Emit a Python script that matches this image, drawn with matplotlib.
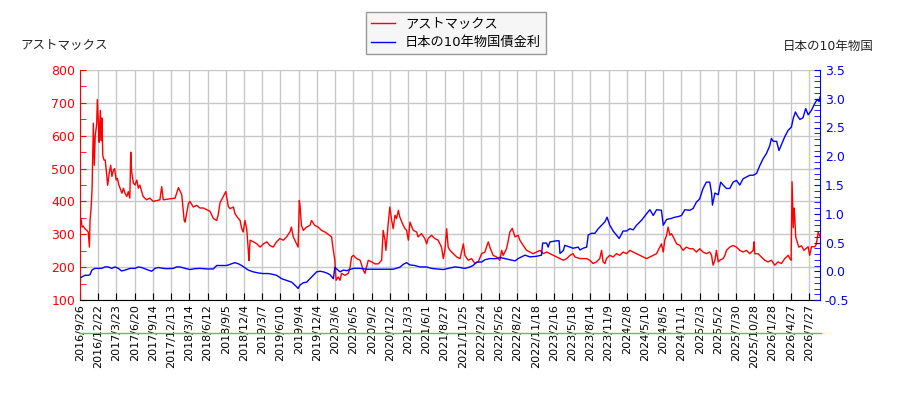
import numpy as np
import matplotlib
matplotlib.use('Agg')
import matplotlib.pyplot as plt
from matplotlib.lines import Line2D
from matplotlib.ticker import MultipleLocator, FixedLocator

plt.rcParams['font.family'] = ['DejaVu Sans', 'Noto Sans CJK JP']

# x axis = trading-day index, one tick every 60 trading days
tick_labels = ['2016/9/26', '2016/12/22', '2017/3/23', '2017/6/20', '2017/9/14', '2017/12/13',
               '2018/3/14', '2018/6/12', '2018/9/5', '2018/12/4', '2019/3/7', '2019/6/10',
               '2019/9/4', '2019/12/4', '2020/3/6', '2020/6/5', '2020/9/2', '2020/12/2',
               '2021/3/3', '2021/6/1', '2021/8/27', '2021/11/25', '2022/2/24', '2022/5/26',
               '2022/8/22', '2022/11/18', '2023/2/16', '2023/5/18', '2023/8/14', '2023/11/9',
               '2024/2/8', '2024/5/10', '2024/8/5', '2024/11/1', '2025/2/3', '2025/5/2',
               '2025/7/30', '2025/10/28', '2026/1/28', '2026/4/27', '2026/7/27']
tick_days = [i * 60 for i in range(len(tick_labels))]

# アストマックス stock price
astmax_day = [0, 3, 7, 11, 16, 22, 27, 31, 33, 36, 38, 40, 41, 44, 47, 50, 55, 57, 61, 63,
              67, 70, 72, 75, 79, 83, 88, 91, 96, 101, 105, 110, 114, 119, 123, 128, 132, 138,
              143, 148, 154, 159, 164, 167, 170, 176, 181, 187, 192, 197, 203, 208, 219, 230,
              241, 263, 269, 274, 296, 313, 324, 335, 340, 343, 346, 351, 357, 362, 373, 384,
              395, 406, 417, 428, 439, 450, 455, 461, 466, 480, 488, 494, 505, 510, 518, 527,
              532, 537, 543, 549, 554, 556, 560, 571, 582, 593, 604, 615, 625, 636, 647, 658,
              669, 680, 691, 696, 702, 713, 718, 722, 724, 729, 735, 746, 757, 762, 773, 784,
              795, 806, 817, 828, 834, 839, 843, 850, 856, 861, 872, 883, 889, 894, 900, 905,
              911, 922, 933, 938, 949, 960, 971, 982, 993, 998, 1004, 1007, 1015, 1020, 1026,
              1031, 1037, 1042, 1048, 1053, 1064, 1070, 1075, 1081, 1086, 1097, 1108, 1113,
              1124, 1135, 1141, 1146, 1157, 1168, 1179, 1190, 1196, 1201, 1207, 1212, 1218,
              1229, 1240, 1251, 1262, 1267, 1278, 1289, 1300, 1311, 1322, 1333, 1338, 1344,
              1349, 1360, 1371, 1382, 1388, 1393, 1404, 1410, 1415, 1423, 1432, 1442, 1448,
              1459, 1470, 1481, 1492, 1503, 1514, 1525, 1536, 1547, 1558, 1569, 1580, 1591,
              1602, 1613, 1623, 1629, 1646, 1668, 1678, 1689, 1700, 1711, 1717, 1722, 1728,
              1733, 1744, 1755, 1766, 1777, 1788, 1799, 1810, 1821, 1832, 1843, 1854, 1865,
              1876, 1887, 1898, 1903, 1909, 1914, 1920, 1925, 1931, 1936, 1942, 1947, 1953,
              1958, 1964, 1975, 1985, 1996, 2007, 2018, 2029, 2040, 2051, 2062, 2073, 2079,
              2084, 2090, 2095, 2101, 2106, 2117, 2123, 2128, 2139, 2150, 2161, 2172, 2183,
              2194, 2205, 2216, 2219, 2221, 2232, 2243, 2254, 2265, 2276, 2287, 2298, 2309,
              2320, 2331, 2337, 2341, 2344, 2348, 2351, 2353, 2356, 2361, 2366, 2375, 2383,
              2392, 2397, 2402, 2408, 2419, 2424, 2430, 2435]
astmax_price = [330, 349, 322, 325, 317, 312, 307, 261, 342, 373, 403, 445, 500, 638, 510, 597,
                637, 710, 630, 580, 677, 585, 654, 540, 526, 526, 480, 449, 485, 510, 476, 495,
                500, 465, 470, 450, 440, 425, 440, 425, 415, 430, 410, 550, 490, 455, 450, 465,
                440, 450, 430, 415, 405, 410, 400, 405, 445, 405, 408, 410, 442, 420, 373, 342,
                337, 364, 394, 400, 383, 388, 380, 380, 375, 370, 348, 342, 360, 396, 405, 430,
                385, 378, 383, 363, 352, 342, 318, 307, 342, 315, 251, 220, 282, 277, 271, 261,
                271, 277, 266, 261, 277, 287, 282, 292, 307, 322, 292, 271, 261, 403, 390, 327,
                312, 322, 327, 342, 327, 322, 312, 307, 300, 292, 251, 221, 160, 170, 160, 181,
                175, 181, 200, 231, 236, 231, 226, 221, 190, 181, 221, 216, 210, 210, 221, 312,
                282, 251, 337, 383, 342, 317, 358, 348, 373, 352, 327, 317, 312, 282, 337, 312,
                307, 292, 302, 287, 271, 287, 297, 287, 282, 261, 226, 251, 317, 261, 251, 241,
                231, 226, 271, 236, 221, 226, 211, 216, 241, 246, 261, 277, 261, 236, 231, 221,
                251, 236, 256, 282, 307, 318, 292, 297, 282, 266, 251, 246, 241, 246, 251, 241,
                246, 241, 236, 231, 226, 221, 226, 236, 241, 231, 226, 226, 221, 211, 216, 226,
                251, 216, 211, 226, 236, 231, 241, 236, 246, 241, 251, 246, 241, 236, 231, 226,
                231, 236, 241, 251, 261, 271, 246, 282, 297, 322, 297, 302, 292, 282, 271, 266,
                251, 261, 256, 256, 246, 256, 246, 241, 246, 236, 206, 221, 251, 216, 221, 226,
                236, 251, 261, 266, 261, 251, 246, 251, 241, 251, 277, 241, 241, 231, 221, 216,
                221, 206, 216, 211, 226, 236, 226, 221, 460, 320, 380, 353, 292, 277, 261, 265,
                251, 258, 262, 236, 262, 262, 270, 307, 295]

# 日本の10年物国債金利 (%)
jgb_day = [0, 3, 16, 27, 33, 39, 49, 60, 71, 82, 93, 104, 115, 126, 137, 148, 165, 181, 192,
           203, 220, 236, 247, 258, 274, 285, 307, 318, 329, 346, 362, 378, 395, 417, 439, 450,
           466, 483, 499, 510, 521, 532, 543, 554, 570, 587, 603, 620, 631, 647, 664, 680, 697,
           713, 718, 724, 735, 746, 757, 768, 779, 790, 801, 812, 823, 834, 839, 845, 856, 867,
           878, 889, 900, 921, 944, 965, 987, 1009, 1031, 1053, 1064, 1075, 1086, 1102, 1119,
           1141, 1157, 1174, 1196, 1212, 1234, 1251, 1267, 1284, 1294, 1306, 1322, 1333, 1349,
           1371, 1382, 1415, 1432, 1442, 1465, 1481, 1503, 1519, 1523, 1536, 1541, 1547, 1569,
           1577, 1580, 1591, 1596, 1613, 1623, 1640, 1646, 1656, 1668, 1673, 1684, 1695, 1706,
           1717, 1728, 1735, 1744, 1755, 1766, 1775, 1788, 1799, 1810, 1821, 1832, 1849, 1865,
           1876, 1887, 1898, 1914, 1920, 1931, 1947, 1958, 1969, 1980, 1991, 2007, 2018, 2029,
           2040, 2051, 2062, 2073, 2079, 2082, 2090, 2101, 2109, 2117, 2128, 2139, 2150, 2161,
           2172, 2183, 2194, 2205, 2216, 2227, 2238, 2249, 2260, 2271, 2276, 2282, 2293, 2301,
           2309, 2320, 2331, 2342, 2348, 2355, 2362, 2370, 2380, 2389, 2397, 2408, 2419, 2427,
           2433, 2436]
jgb_yield = [-0.11, -0.11, -0.07, -0.07, -0.06, 0.02, 0.05, 0.05, 0.05, 0.075, 0.075, 0.05,
             0.075, 0.05, 0.005, 0.02, 0.05, 0.05, 0.075, 0.065, 0.03, 0.0, 0.05, 0.065, 0.05,
             0.045, 0.05, 0.075, 0.075, 0.05, 0.03, 0.045, 0.05, 0.04, 0.04, 0.1, 0.1, 0.1,
             0.13, 0.15, 0.13, 0.1, 0.06, 0.02, -0.01, -0.03, -0.04, -0.04, -0.05, -0.07,
             -0.13, -0.16, -0.19, -0.27, -0.3, -0.24, -0.2, -0.19, -0.13, -0.07, -0.01, 0.0,
             -0.01, -0.03, -0.06, -0.13, 0.07, 0.04, -0.01, 0.02, 0.01, 0.03, 0.05, 0.05,
             0.035, 0.035, 0.035, 0.035, 0.035, 0.07, 0.12, 0.15, 0.11, 0.1, 0.075, 0.075,
             0.05, 0.04, 0.03, 0.05, 0.075, 0.065, 0.05, 0.075, 0.1, 0.16, 0.16, 0.2, 0.22,
             0.22, 0.24, 0.2, 0.18, 0.22, 0.28, 0.25, 0.26, 0.28, 0.49, 0.49, 0.42, 0.51, 0.53,
             0.53, 0.31, 0.36, 0.45, 0.42, 0.4, 0.42, 0.37, 0.4, 0.42, 0.63, 0.66, 0.66, 0.74,
             0.8, 0.86, 0.94, 0.8, 0.7, 0.63, 0.57, 0.7, 0.7, 0.74, 0.72, 0.8, 0.89, 1.0, 1.07,
             0.97, 1.07, 1.06, 0.8, 0.9, 0.92, 0.94, 0.95, 0.97, 1.07, 1.06, 1.09, 1.2, 1.26,
             1.44, 1.55, 1.55, 1.36, 1.15, 1.36, 1.33, 1.55, 1.5, 1.44, 1.44, 1.55, 1.58, 1.5,
             1.61, 1.64, 1.67, 1.67, 1.7, 1.84, 1.96, 2.05, 2.19, 2.31, 2.26, 2.26, 2.1, 2.2,
             2.34, 2.45, 2.51, 2.66, 2.77, 2.7, 2.64, 2.67, 2.83, 2.72, 2.8, 2.92, 2.99, 2.95,
             3.03]

fig = plt.figure(figsize=(9, 4), dpi=100)
ax = fig.add_axes([80 / 900, 0.25, 740 / 900, 0.575])
ax2 = ax.twinx()

l1, = ax.plot(astmax_day, astmax_price, color='red', linewidth=1, label='アストマックス')
l2, = ax2.plot(jgb_day, jgb_yield, color='blue', linewidth=1, label='日本の10年物国債金利')

ax.set_xlim(0, 2436)
ax.set_ylim(100, 800)
ax2.set_ylim(-0.5, 3.5)

ax.xaxis.set_major_locator(FixedLocator(tick_days))
ax.set_xticks(tick_days)
ax.set_xticklabels(tick_labels, rotation=90, fontsize=8)
ax.yaxis.set_major_locator(MultipleLocator(100))
ax.yaxis.set_minor_locator(MultipleLocator(50))
ax2.yaxis.set_major_locator(MultipleLocator(0.5))
ax2.yaxis.set_minor_locator(MultipleLocator(0.1))

ax.grid(True, color='#c8c8c8', linewidth=1)
ax.set_axisbelow(True)

ax.tick_params(axis='x', direction='in', length=5, color='black', labelsize=8, pad=3)
ax.tick_params(axis='y', which='both', direction='in', length=4, colors='red', labelsize=9)
ax2.tick_params(axis='y', which='both', direction='in', length=4, colors='blue', labelsize=9)
ax2.yaxis.set_major_formatter(plt.FuncFormatter(lambda v, p: f'{v:.1f}'))

ax.spines['left'].set_color('red')
ax.spines['bottom'].set_color('black')
ax.spines['top'].set_visible(False)
ax.spines['right'].set_visible(False)
ax2.spines['top'].set_visible(False)
ax2.spines['left'].set_visible(False)
ax2.spines['bottom'].set_visible(False)
ax2.spines['right'].set_color('blue')

fig.text(20 / 900, 1 - 45 / 400, 'アストマックス', fontsize=9, color='#222222', va='center', ha='left')
fig.text(874 / 900, 1 - 46 / 400, '日本の10年物国', fontsize=9, color='#222222', va='center', ha='right')

leg = fig.legend(handles=[l1, l2], loc='upper center', bbox_to_anchor=(456 / 900, 1 - 12 / 400),
                 fontsize=9.5, frameon=True, fancybox=False, borderaxespad=0,
                 handlelength=1.8, labelspacing=0.45)
leg.get_frame().set_facecolor('#f4f4f4')
leg.get_frame().set_edgecolor('#808080')

fig.add_artist(Line2D([80 / 900, 821 / 900], [1 - 333 / 400, 1 - 333 / 400],
                      color='#33dd33', linewidth=1))

fig.savefig('out.png', dpi=100)
